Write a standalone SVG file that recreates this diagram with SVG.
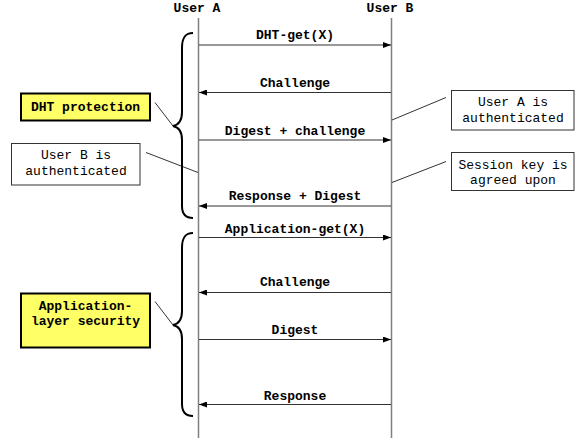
<svg xmlns="http://www.w3.org/2000/svg" width="585" height="441" viewBox="0 0 585 441">
<defs>
<marker id="ah" viewBox="0 0 8 6" refX="8" refY="3" markerWidth="8" markerHeight="6" markerUnits="userSpaceOnUse" orient="auto">
<path d="M0,0 L8,3 L0,6 Z" fill="#000"/>
</marker>
</defs>
<style>
text{font-family:"Liberation Mono","Courier New",monospace;font-size:13px;fill:#000;}
.b{font-weight:bold;}
.life{stroke:#808080;stroke-width:1.5;fill:none;}
.msg{stroke:#333;stroke-width:1;fill:none;marker-end:url(#ah);}
.lead{stroke:#333;stroke-width:1;fill:none;}
.brace{stroke:#000;stroke-width:2;fill:none;}
.ybox{fill:#FFFF66;stroke:#000;stroke-width:2;}
.wbox{fill:#fff;stroke:#333;stroke-width:1;}
</style>
<rect width="585" height="441" fill="#fff"/>
<g id="userA">
<text class="b" x="197" y="12" text-anchor="middle">User A</text>
<line class="life" x1="198.5" y1="18" x2="198.5" y2="438"/>
</g>
<g id="userB">
<text class="b" x="390" y="12" text-anchor="middle">User B</text>
<line class="life" x1="391.5" y1="18" x2="391.5" y2="438"/>
</g>
<g id="connectors">
<line class="msg" x1="199" y1="45" x2="391" y2="45"/>
<line class="msg" x1="391" y1="92.5" x2="199" y2="92.5"/>
<line class="msg" x1="199" y1="140" x2="391" y2="140"/>
<line class="msg" x1="391" y1="206" x2="199" y2="206"/>
<line class="msg" x1="199" y1="237.5" x2="391" y2="237.5"/>
<line class="msg" x1="391" y1="292.5" x2="199" y2="292.5"/>
<line class="msg" x1="199" y1="339.5" x2="391" y2="339.5"/>
<line class="msg" x1="391" y1="404.5" x2="199" y2="404.5"/>
<line class="lead" x1="155" y1="102.5" x2="173" y2="126"/>
<line class="lead" x1="155" y1="301.5" x2="173" y2="325"/>
<line class="lead" x1="146" y1="152.5" x2="198" y2="172.5"/>
<line class="lead" x1="446" y1="97.5" x2="392" y2="120"/>
<line class="lead" x1="446" y1="161.5" x2="392" y2="182.5"/>
</g>
<g id="labels">
<text class="b" x="295" y="39" text-anchor="middle">DHT-get(X)</text>
<text class="b" x="295" y="87" text-anchor="middle">Challenge</text>
<text class="b" x="295" y="135" text-anchor="middle">Digest + challenge</text>
<text class="b" x="295" y="200" text-anchor="middle">Response + Digest</text>
<text class="b" x="295" y="233" text-anchor="middle">Application-get(X)</text>
<text class="b" x="295" y="286" text-anchor="middle">Challenge</text>
<text class="b" x="295" y="334" text-anchor="middle">Digest</text>
<text class="b" x="295" y="400" text-anchor="middle">Response</text>
</g>
<g id="brace1">
<path class="brace" d="M193,33 C185,33 182,38 182,48 L182,112 C182,121 178,125 173,126 C178,127 182,131 182,140 L182,206 C182,214 185,218 193,218"/>
</g>
<g id="brace2">
<path class="brace" d="M193,233 C185,233 182,238 182,248 L182,311 C182,320 178,324 173,325 C178,326 182,330 182,339 L182,404 C182,412 185,416 193,416"/>
</g>
<g id="dhtProtection">
<rect class="ybox" x="21" y="93.5" width="129" height="27"/>
<text class="b" x="85.5" y="111" text-anchor="middle">DHT protection</text>
</g>
<g id="appLayer">
<rect class="ybox" x="21" y="293.5" width="129" height="54"/>
<text class="b" x="85.5" y="310" text-anchor="middle">Application-</text>
<text class="b" x="85.5" y="325" text-anchor="middle">layer security</text>
</g>
<g id="userBAuth">
<rect class="wbox" x="11.5" y="143.5" width="128.5" height="41.5"/>
<text x="76" y="159" text-anchor="middle">User B is</text>
<text x="76" y="175" text-anchor="middle">authenticated</text>
</g>
<g id="userAAuth">
<rect class="wbox" x="451.5" y="90.5" width="122.5" height="39.5"/>
<text x="513" y="106" text-anchor="middle">User A is</text>
<text x="513" y="122" text-anchor="middle">authenticated</text>
</g>
<g id="sessionKey">
<rect class="wbox" x="451.5" y="152.5" width="122.5" height="38"/>
<text x="513" y="168.5" text-anchor="middle">Session key is</text>
<text x="513" y="183.5" text-anchor="middle">agreed upon</text>
</g>
</svg>
